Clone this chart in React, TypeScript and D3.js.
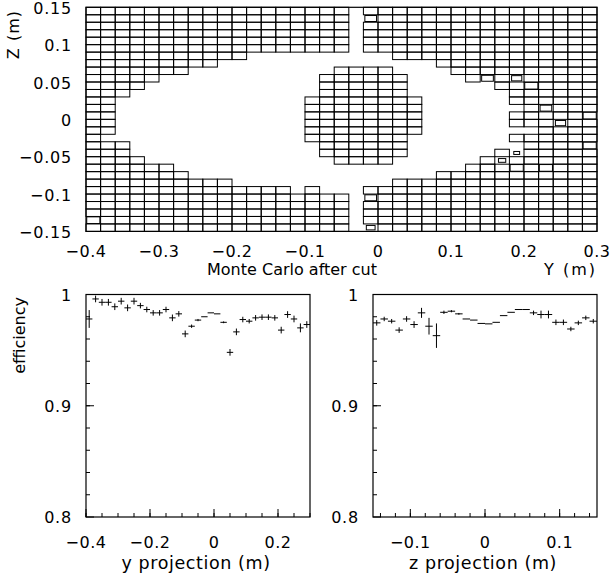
import React from "react";
import * as d3 from "d3";

// ---- Top panel: 2D box histogram (Y bins of 0.02 m, Z bins of 0.01 m) ----
const yEdgesRange = [-0.4, 0.3];
const zEdgesRange = [-0.15, 0.15];
const yBinWidth = 0.02;
const zBinWidth = 0.01;
// rows from top (Z = 0.15) to bottom (Z = -0.15); '.' empty, '#' full box, digit = box fraction/10
const boxRows: string[] = [
  "##################.################",
  "##################.8###############",
  "##################.################",
  "##################.################",
  "##################.################",
  "##################.################",
  "###########..........##############",
  "#########...............###########",
  "#######..........####....##########",
  "#####...........######....#8#7#####",
  "####............######......##9####",
  "###.............######.......######",
  "##.............########......######",
  "##.............########.......#8###",
  "##.............########......#####9",
  "##.............########......###7##",
  "##.............########........####",
  "#..............#######.......######",
  "###.............######........####9",
  "###.............######......#4#####",
  "####.............####......#5######",
  "######....................###9#9###",
  "#######.................###########",
  "##########...........##############",
  "##############.#...################",
  "##################.8###############",
  "##################.################",
  "##################.################",
  "9#################.################",
  "##################.6###############",
];
const topXTicks = [-0.4, -0.3, -0.2, -0.1, 0, 0.1, 0.2, 0.3];
const topYTicks = [-0.15, -0.1, -0.05, 0, 0.05, 0.1, 0.15];

// ---- Bottom-left: efficiency vs y (35 bins of 0.02 m) ----
const yProjEff = [
  0.978, 0.996, 0.993, 0.993, 0.989, 0.994, 0.988, 0.994, 0.99, 0.9865,
  0.9835, 0.9835, 0.9865, 0.979, 0.9826, 0.9646, 0.9715, 0.977, 0.98, 0.9835,
  0.9826, 0.975, 0.948, 0.9664, 0.9775, 0.976, 0.979, 0.9796, 0.9796, 0.979,
  0.968, 0.982, 0.978, 0.97, 0.973,
];
const yProjErr = [
  0.008, 0.003, 0.003, 0.003, 0.003, 0.003, 0.003, 0.003, 0.0025, 0.0025,
  0.0025, 0.0025, 0.0025, 0.003, 0.0025, 0.003, 0.0015, 0.001, 0.0005, 0.0004,
  0.0004, 0.0008, 0.003, 0.003, 0.0025, 0.002, 0.0025, 0.0025, 0.0025, 0.0025,
  0.003, 0.003, 0.003, 0.004, 0.003,
];
// ---- Bottom-right: efficiency vs z (30 bins of 0.01 m) ----
const zProjEff = [
  0.9745, 0.978, 0.976, 0.968, 0.978, 0.973, 0.9835, 0.9715, 0.963, 0.984,
  0.985, 0.9826, 0.978, 0.977, 0.974, 0.9736, 0.975, 0.981, 0.984, 0.9865,
  0.9865, 0.9835, 0.982, 0.982, 0.975, 0.975, 0.969, 0.9745, 0.979, 0.976,
];
const zProjErr = [
  0.0025, 0.002, 0.002, 0.0025, 0.0025, 0.003, 0.0045, 0.0075, 0.011, 0.0015,
  0.001, 0.0008, 0.0005, 0.0005, 0.0005, 0.0005, 0.0005, 0.0005, 0.0005, 0.0005,
  0.0005, 0.002, 0.0035, 0.0035, 0.0025, 0.0025, 0.002, 0.002, 0.002, 0.002,
];
const leftXTicks = [-0.4, -0.2, 0, 0.2];
const rightXTicks = [-0.1, 0, 0.1];
const effTicks = [0.8, 0.9, 1];

const FONT = "DejaVu Sans";
const FS = 16;

const fmt = (v: number) => (v < 0 ? "\u2212" + String(Math.abs(v)) : String(v));

function TopPanel() {
  const x = d3.scaleLinear().domain(yEdgesRange).range([86, 597]);
  const y = d3.scaleLinear().domain(zEdgesRange).range([231.4, 7.3]);
  const boxes: JSX.Element[] = [];
  boxRows.forEach((row, r) => {
    const zHi = zEdgesRange[1] - r * zBinWidth;
    const zLo = zHi - zBinWidth;
    row.split("").forEach((ch, c) => {
      if (ch === ".") return;
      const s = ch === "#" ? 1 : Number(ch) / 10;
      const yLo = yEdgesRange[0] + c * yBinWidth;
      const yHi = yLo + yBinWidth;
      const cx = (x(yLo) + x(yHi)) / 2;
      const cy = (y(zLo) + y(zHi)) / 2;
      const w = (x(yHi) - x(yLo)) * s;
      const h = (y(zLo) - y(zHi)) * s;
      boxes.push(
        <rect key={`${r}-${c}`} x={cx - w / 2} y={cy - h / 2} width={w} height={h}
          fill="none" stroke="#000" strokeWidth={1} />
      );
    });
  });
  return (
    <g>
      {boxes}
      <rect x={86} y={7.3} width={511} height={224.1} fill="none" stroke="#000" strokeWidth={1.2} />
      {topYTicks.map((t) => (
        <text key={"yt" + t} x={72} y={y(t) + 6.5} textAnchor="end" letterSpacing={0.8}>{fmt(t)}</text>
      ))}
      {topXTicks.map((t) => (
        <text key={"xt" + t} x={x(t)} y={256.5} textAnchor="middle" letterSpacing={0.5}>{fmt(t)}</text>
      ))}
      <text transform="translate(19,10) rotate(-90)" textAnchor="end" letterSpacing={1}>Z (m)</text>
      <text x={292} y={275} textAnchor="middle">Monte Carlo after cut</text>
      <text x={597} y={275} textAnchor="end" letterSpacing={2}>Y (m)</text>
    </g>
  );
}

function EffPanel(props: {
  x0: number; x1: number; domain: number[]; eff: number[]; err: number[];
  xticks: number[]; minorStep: number; label: string; ylabel?: string;
}) {
  const { x0, x1, domain, eff, err, xticks, minorStep, label, ylabel } = props;
  const top = 294.5, bottom = 517;
  const x = d3.scaleLinear().domain(domain).range([x0, x1]);
  const y = d3.scaleLinear().domain([0.8, 1]).range([bottom, top]);
  const n = eff.length;
  const bw = (domain[1] - domain[0]) / n;
  const minorY = d3.range(0.82, 0.999, 0.02);
  const minorX: number[] = [];
  for (let v = Math.ceil(domain[0] / minorStep - 1e-9) * minorStep; v <= domain[1] + 1e-9; v += minorStep) minorX.push(v);
  return (
    <g>
      <rect x={x0} y={top} width={x1 - x0} height={bottom - top} fill="none" stroke="#000" strokeWidth={1.2} />
      {minorY.map((t) => (
        <line key={"my" + t} x1={x0} x2={x0 + 4} y1={y(t)} y2={y(t)} stroke="#000" />
      ))}
      {effTicks.map((t) => (
        <line key={"My" + t} x1={x0} x2={x0 + 8} y1={y(t)} y2={y(t)} stroke="#000" />
      ))}
      {minorX.map((t, i) => (
        <line key={"mx" + i} x1={x(t)} x2={x(t)} y1={bottom} y2={bottom - 4} stroke="#000" />
      ))}
      {xticks.map((t) => (
        <line key={"Mx" + t} x1={x(t)} x2={x(t)} y1={bottom} y2={bottom - 8} stroke="#000" />
      ))}
      {eff.map((e, i) => {
        const lo = domain[0] + i * bw;
        const hi = lo + bw;
        const cx = x(lo + bw / 2);
        return (
          <g key={"p" + i}>
            <line x1={x(lo)} x2={x(hi)} y1={y(e)} y2={y(e)} stroke="#000" />
            {err[i] > 0.0006 && (
              <line x1={cx} x2={cx} y1={y(e - err[i])} y2={y(e + err[i])} stroke="#000" />
            )}
          </g>
        );
      })}
      {effTicks.map((t) => (
        <text key={"yl" + t} x={x0 - 14} y={y(t) + 6} textAnchor="end" letterSpacing={0.8}>{String(t)}</text>
      ))}
      {xticks.map((t) => (
        <text key={"xl" + t} x={x(t)} y={548} textAnchor="middle" letterSpacing={0.5}>{fmt(t)}</text>
      ))}
      <text x={(x0 + x1) / 2 - 2} y={569} textAnchor="middle" fontSize={17.5} letterSpacing={0.6}>{label}</text>
      {ylabel && (
        <text transform={`translate(25,297) rotate(-90)`} textAnchor="end">{ylabel}</text>
      )}
    </g>
  );
}

export default function App() {
  return (
    <svg width={612} height={577} style={{ position: "absolute", left: 0, top: 0, background: "#fff" }}
      fontFamily={FONT} fontSize={FS} fill="#000">
      <rect x={0} y={0} width={612} height={577} fill="#fff" />
      <TopPanel />
      <EffPanel x0={86} x1={310} domain={[-0.4, 0.3]} eff={yProjEff} err={yProjErr}
        xticks={leftXTicks} minorStep={0.05} label="y projection (m)" ylabel="efficiency" />
      <EffPanel x0={373} x1={597} domain={[-0.15, 0.15]} eff={zProjEff} err={zProjErr}
        xticks={rightXTicks} minorStep={0.02} label="z projection (m)" />
    </svg>
  );
}
